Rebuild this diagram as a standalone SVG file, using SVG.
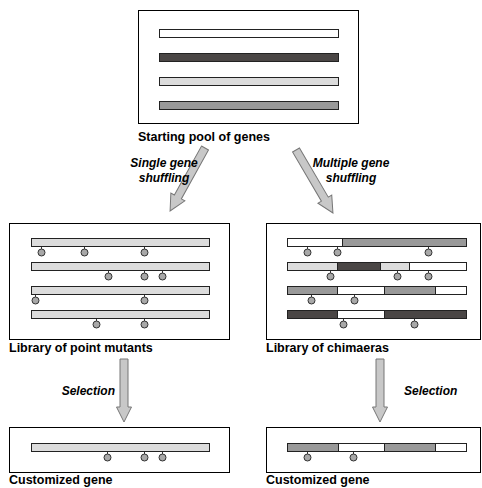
<svg xmlns="http://www.w3.org/2000/svg" width="482" height="488" viewBox="0 0 482 488">
<style>
.box{fill:#fff;stroke:#000;stroke-width:1}
.bar{stroke:#222;stroke-width:1}
.w{fill:#fff}.d{fill:#4a4645}.l{fill:#dcdcdc}.m{fill:#999}
.pt{fill:#a8a8a8;stroke:#333;stroke-width:1}
.stem{stroke:#333;stroke-width:1}
.lab{font-family:"Liberation Sans",Arial,sans-serif;font-weight:bold;font-size:12.5px;fill:#000}
.al{font-family:"Liberation Sans",Arial,sans-serif;font-weight:bold;font-style:italic;font-size:12px;fill:#000}
.arr{fill:#c8c8c8;stroke:#777;stroke-width:1}
</style>
<defs>
<g id="p"><line class="stem" x1="0" y1="0" x2="0" y2="2"/><circle class="pt" cx="0" cy="5.5" r="3.5"/></g>
</defs>

<g id="pool">
<rect class="box" x="138.5" y="10.5" width="220" height="113"/>
<rect class="bar w" x="159.5" y="29.5" width="179" height="8"/>
<rect class="bar d" x="159.5" y="53.5" width="179" height="8"/>
<rect class="bar l" x="159.5" y="77.5" width="179" height="8"/>
<rect class="bar m" x="159.5" y="101.5" width="179" height="8"/>
<text class="lab" x="138" y="141">Starting pool of genes</text>
</g>

<g id="mutants">
<rect class="box" x="9.5" y="223.5" width="220" height="116"/>
<rect class="bar l" x="31.5" y="238.5" width="178" height="8"/>
<rect class="bar l" x="31.5" y="262.5" width="178" height="8"/>
<rect class="bar l" x="31.5" y="286.5" width="178" height="8"/>
<rect class="bar l" x="31.5" y="310.5" width="178" height="8"/>
<use href="#p" x="41.5" y="247"/><use href="#p" x="84.5" y="247"/><use href="#p" x="144.5" y="247"/>
<use href="#p" x="108.5" y="271"/><use href="#p" x="144.5" y="271"/><use href="#p" x="162.5" y="271"/>
<use href="#p" x="35.5" y="295"/><use href="#p" x="144.5" y="295"/>
<use href="#p" x="96.5" y="319"/><use href="#p" x="144.5" y="319"/>
<text class="lab" x="9" y="352">Library of point mutants</text>
</g>

<g id="chimaeras">
<rect class="box" x="266.5" y="223.5" width="214" height="116"/>
<rect class="bar w" x="287.5" y="238.5" width="55" height="8"/>
<rect class="bar m" x="342.5" y="238.5" width="124" height="8"/>
<rect class="bar l" x="287.5" y="262.5" width="50" height="8"/>
<rect class="bar d" x="337.5" y="262.5" width="43" height="8"/>
<rect class="bar l" x="380.5" y="262.5" width="29" height="8"/>
<rect class="bar w" x="409.5" y="262.5" width="57" height="8"/>
<rect class="bar m" x="287.5" y="286.5" width="50" height="8"/>
<rect class="bar w" x="337.5" y="286.5" width="47" height="8"/>
<rect class="bar m" x="384.5" y="286.5" width="51" height="8"/>
<rect class="bar w" x="435.5" y="286.5" width="31" height="8"/>
<rect class="bar d" x="287.5" y="310.5" width="50" height="8"/>
<rect class="bar w" x="337.5" y="310.5" width="47" height="8"/>
<rect class="bar d" x="384.5" y="310.5" width="82" height="8"/>
<use href="#p" x="307.5" y="247"/><use href="#p" x="337.5" y="247"/><use href="#p" x="428.5" y="247"/>
<use href="#p" x="330.5" y="271"/><use href="#p" x="397.5" y="271"/><use href="#p" x="428.5" y="271"/>
<use href="#p" x="311.5" y="295"/><use href="#p" x="354.5" y="295"/>
<use href="#p" x="343.5" y="319"/><use href="#p" x="414.5" y="319"/>
<text class="lab" x="266" y="352">Library of chimaeras</text>
</g>

<g id="custom-left">
<rect class="box" x="9.5" y="427.5" width="220" height="45"/>
<rect class="bar l" x="31.5" y="443.5" width="178" height="8"/>
<use href="#p" x="107.5" y="452"/><use href="#p" x="144.5" y="452"/><use href="#p" x="162.5" y="452"/>
<text class="lab" x="9" y="484">Customized gene</text>
</g>

<g id="custom-right">
<rect class="box" x="266.5" y="427.5" width="214" height="45"/>
<rect class="bar m" x="287.5" y="443.5" width="51" height="8"/>
<rect class="bar w" x="338.5" y="443.5" width="46" height="8"/>
<rect class="bar m" x="384.5" y="443.5" width="51" height="8"/>
<rect class="bar w" x="435.5" y="443.5" width="31" height="8"/>
<use href="#p" x="307.5" y="452"/><use href="#p" x="353.5" y="452"/>
<text class="lab" x="266" y="484">Customized gene</text>
</g>

<g id="connectors">
<path class="arr" transform="translate(205,148) rotate(29)" d="M-4,0 L4,0 L4,56 L8,56 L0,72 L-8,56 L-4,56 Z"/>
<path class="arr" transform="translate(296,150) rotate(-30.4)" d="M-4,0 L4,0 L4,57 L8,57 L0,73 L-8,57 L-4,57 Z"/>
<path class="arr" transform="translate(124,359)" d="M-4,0 L4,0 L4,48 L7.5,48 L0,63 L-7.5,48 L-4,48 Z"/>
<path class="arr" transform="translate(380,359)" d="M-4,0 L4,0 L4,48 L7.5,48 L0,63 L-7.5,48 L-4,48 Z"/>
<text class="al" x="164" y="167" text-anchor="middle">Single gene</text>
<text class="al" x="164" y="182" text-anchor="middle">shuffling</text>
<text class="al" x="351" y="167" text-anchor="middle">Multiple gene</text>
<text class="al" x="351" y="182" text-anchor="middle">shuffling</text>
<text class="al" x="115" y="395" text-anchor="end">Selection</text>
<text class="al" x="404" y="395">Selection</text>
</g>
</svg>
